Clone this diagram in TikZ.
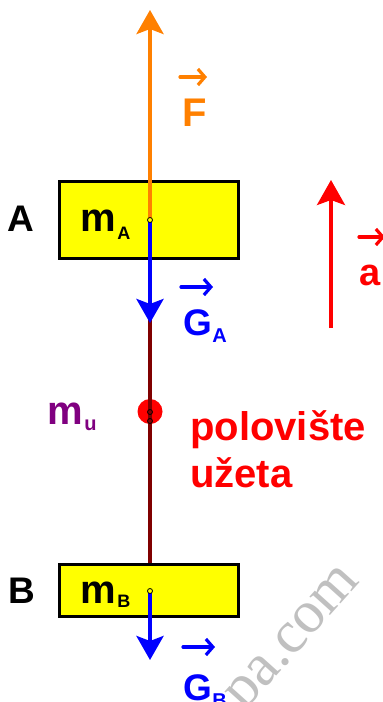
\documentclass[tikz,border=0pt]{standalone}
\usepackage{fontspec}
\setmainfont{Liberation Sans}
\newfontfamily\wmfont{Liberation Serif}
\usetikzlibrary{arrows.meta}
\definecolor{forange}{RGB}{255,128,0}
\definecolor{fblue}{RGB}{0,0,255}
\definecolor{fred}{RGB}{255,0,0}
\definecolor{rope}{RGB}{128,0,0}
\definecolor{fpurple}{RGB}{128,0,128}
\definecolor{byellow}{RGB}{255,255,0}
\definecolor{wmgray}{RGB}{192,192,192}
\newcommand\myfs[1]{\fontsize{#1}{#1}\selectfont}
\begin{document}
\begin{tikzpicture}[x=1pt,y=-1pt,
  box/.style={draw=black, line width=3pt, fill=byellow, inner sep=0pt, rectangle},
  force/.style={line width=4pt, -{Stealth[length=24pt,width=27pt,inset=5pt]}},
  vecmark/.style={line width=3.2pt, line cap=round, line join=round, -{Straight Barb[length=7pt,width=16pt]}},
  lbl/.style={inner sep=0pt, anchor=base west},
  pin/.style={circle, draw=black, line width=0.8pt, inner sep=0pt, minimum size=5pt}]
\useasboundingbox (0,0) rectangle (383,702);
\clip (0,0) rectangle (383,702);
\fill[white] (0,0) rectangle (383,702);
% watermark
\node[inner sep=0pt, anchor=base west, rotate=48, text=wmgray, font=\wmfont\myfs{60}] (wm) at (244,712) {pa.com};
% boxes
\node[box, minimum width=179pt, minimum height=77pt] (boxA) at (149,220) {};
\node[box, minimum width=179pt, minimum height=52pt] (boxB) at (149,590.5) {};
\coordinate (cA) at (150,220);
\coordinate (cB) at (150,591);
\coordinate (Ftip) at (150,10);
\coordinate (GAtip) at (150,323);
\coordinate (GBtip) at (150,660);
\coordinate (ropeB) at (150,563);
\coordinate (abot) at (331,328);
\coordinate (atop) at (331,180);
% midpoint dot
\node[circle, fill=fred, inner sep=0pt, minimum size=25pt] (dot) at (150,411.5) {};
% rope
\draw[rope, line width=4pt] (cA) -- (ropeB);
% forces
\draw[force, forange] (cA) -- (Ftip);
\draw[force, fblue] (cA) -- (GAtip);
\draw[force, fblue] (cB) -- (GBtip);
\draw[fred, line width=3.5pt, -{Stealth[length=25pt,width=28pt,inset=5pt]}] (abot) -- (atop);
% pins
\node[pin, fill=byellow] (pA) at (cA) {};
\node[pin, fill=byellow] (pB) at (cB) {};
\node[pin] (pm1) at (150,412) {};
\node[pin] (pm2) at (150,421) {};
% labels
\node[lbl, font=\bfseries\myfs{37}] (lA) at (7,231) {A};
\node[lbl, font=\bfseries\myfs{37}] (lB) at (8,603) {B};
\node[lbl, font=\bfseries\myfs{40}] (mA) at (80,231) {m\kern1.5pt\raisebox{-8pt}{\myfs{18}A}};
\node[lbl, font=\bfseries\myfs{40}] (mB) at (80,603) {m\kern1.5pt\raisebox{-4pt}{\myfs{18}B}};
\node[lbl, text=fpurple, font=\bfseries\myfs{40}] (mu) at (47,424) {m\kern1.5pt\raisebox{-6pt}{\myfs{20}u}};
\node[lbl, text=forange, font=\bfseries\myfs{40}] (lF) at (182,126) {F};
\draw[vecmark, forange] (180,77) -- (207,77);
\node[lbl, text=fblue, font=\bfseries\myfs{37}] (lGA) at (183,335) {G\kern0.5pt\raisebox{-7pt}{\myfs{20}A}};
\draw[vecmark, fblue] (181,287) -- (213,287);
\node[lbl, text=fblue, font=\bfseries\myfs{37}] (lGB) at (183,700) {G\kern0.5pt\raisebox{-7pt}{\myfs{20}B}};
\draw[vecmark, fblue] (183,647) -- (215,647);
\node[lbl, text=fred, font=\bfseries\myfs{38}] (la) at (359,285) {a};
\draw[vecmark, fred] (359,237) -- (385,237);
\node[lbl, text=fred, font=\bfseries\myfs{40}] (lp1) at (190,440) {polovište};
\node[lbl, text=fred, font=\bfseries\myfs{40}] (lp2) at (190,487) {užeta};
\end{tikzpicture}
\end{document}
